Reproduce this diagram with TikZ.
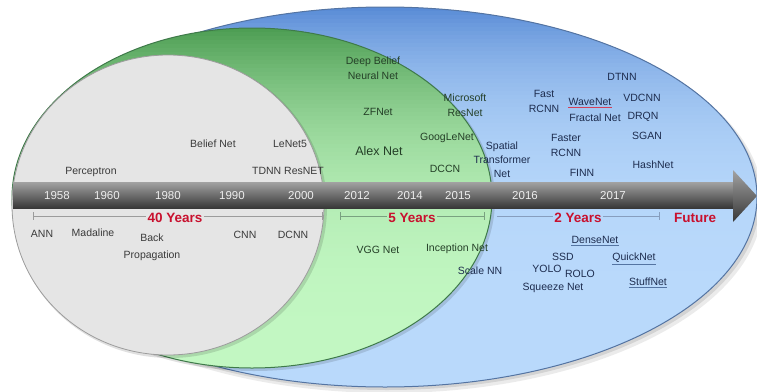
\documentclass[tikz,border=0pt]{standalone}
\usepackage{fontspec}
\setmainfont{Liberation Sans}
\usetikzlibrary{positioning}
\definecolor{TLBlueDark}{HTML}{5A8CD6}
\definecolor{TLBlueLight}{HTML}{B9D9FB}
\definecolor{TLBlueRim}{HTML}{5474A2}
\definecolor{TLGreenDark}{HTML}{4E9E54}
\definecolor{TLGreenLight}{HTML}{C2F7C2}
\definecolor{TLGreenRim}{HTML}{3F7A4A}
\definecolor{TLGrey}{HTML}{E5E5E5}
\definecolor{TLGreyRim}{HTML}{9C9C9C}
\definecolor{TLBarTop}{HTML}{A2A2A2}
\definecolor{TLBarMid}{HTML}{626262}
\definecolor{TLBarLow}{HTML}{383838}
\definecolor{TLYear}{HTML}{EDEDED}
\definecolor{TLRed}{HTML}{C8102E}
\definecolor{TLTextGrey}{HTML}{3A3A3A}
\definecolor{TLTextGreen}{HTML}{243F27}
\definecolor{TLTextBlue}{HTML}{1D2C4E}

\tikzset{
  net/.style={align=center, inner sep=0pt, font=\fontsize{10.5}{15}\selectfont},
  netgrey/.style={net, text=TLTextGrey},
  netgreen/.style={net, text=TLTextGreen},
  netblue/.style={net, text=TLTextBlue},
  yearlbl/.style={inner sep=0pt, text=TLYear, font=\fontsize{11.5}{12}\selectfont},
  spanlbl/.style={inner sep=1pt, text=TLRed, font=\bfseries\fontsize{13.5}{14}\selectfont},
  brk/.style={line width=0.6pt},
}

\begin{document}
\begin{tikzpicture}[x=1pt,y=-1pt]
  \useasboundingbox (0,0) rectangle (757,391);
  % soft shadow under the outer oval
  \fill[black, opacity=0.08] (389,202) ellipse [x radius=374pt, y radius=191pt];
  \fill[black, opacity=0.10] (387,200) ellipse [x radius=373pt, y radius=190pt];
  % blue oval, dark only near the top rim
  \begin{scope}
    \clip (385,197) ellipse [x radius=372pt, y radius=190pt];
    \foreach \i in {0,...,94} {
      \pgfmathsetmacro\tl{100*(1-(1-\i/95)^4.5)}
      \fill[TLBlueLight!\tl!TLBlueDark] (13,7+4*\i) rectangle (757,11.5+4*\i);
    }
  \end{scope}
  \draw[TLBlueRim, line width=1pt] (385,197) ellipse [x radius=372pt, y radius=190pt];
  % green oval
  \fill[black, opacity=0.12] (254,200) ellipse [x radius=241pt, y radius=171pt];
  \begin{scope}
    \clip (252,198) ellipse [x radius=240pt, y radius=170pt];
    \foreach \i in {0,...,84} {
      \pgfmathsetmacro\tl{100*(1-(1-\i/85)^2.9)}
      \fill[TLGreenLight!\tl!TLGreenDark] (12,28+4*\i) rectangle (492,32.5+4*\i);
    }
  \end{scope}
  \draw[TLGreenRim, line width=1pt] (252,198) ellipse [x radius=240pt, y radius=170pt];
  % grey oval
  \fill[black, opacity=0.12] (170,207) ellipse [x radius=157pt, y radius=151pt];
  \fill[TLGrey] (168,205) ellipse [x radius=156pt, y radius=150pt];
  \draw[TLGreyRim, line width=0.8pt] (168,205) ellipse [x radius=156pt, y radius=150pt];

  % time axis
  \shade[top color=TLBarTop, middle color=TLBarMid, bottom color=TLBarLow]
    (13,182) rectangle (733,208);
  \shade[top color=TLBarTop, middle color=TLBarMid, bottom color=TLBarLow]
    (733,170) -- (757,196) -- (733,222) -- cycle;
  \foreach \yr/\xx in {1958/57, 1960/107, 1980/168, 1990/232, 2000/301,
                       2012/357, 2014/410, 2015/458, 2016/525, 2017/613}
    \node[yearlbl] (yr\yr) at (\xx,196) {\yr};

  % spans below the axis
  \coordinate (s40l) at (33,216);
  \coordinate (s40r) at (322,216);
  \node[spanlbl] (span40) at (175,218) {40 Years};
  \draw[brk, TLGreyRim] (s40l) -- (s40l -| span40.west);
  \draw[brk, TLGreyRim] (span40.east |- s40r) -- (s40r);
  \draw[brk, TLGreyRim] ([yshift=4pt]s40l) -- ([yshift=-4pt]s40l);
  \draw[brk, TLGreyRim] ([yshift=4pt]s40r) -- ([yshift=-4pt]s40r);

  \coordinate (s5l) at (340,216);
  \coordinate (s5r) at (484,216);
  \node[spanlbl] (span5) at (412,218) {5 Years};
  \draw[brk, TLGreenRim!70] (s5l) -- (s5l -| span5.west);
  \draw[brk, TLGreenRim!70] (span5.east |- s5r) -- (s5r);
  \draw[brk, TLGreenRim!70] ([yshift=4pt]s5l) -- ([yshift=-4pt]s5l);
  \draw[brk, TLGreenRim!70] ([yshift=4pt]s5r) -- ([yshift=-4pt]s5r);

  \coordinate (s2l) at (497,216);
  \coordinate (s2r) at (659,216);
  \node[spanlbl] (span2) at (578,218) {2 Years};
  \draw[brk, TLBlueRim!70] (s2l) -- (s2l -| span2.west);
  \draw[brk, TLBlueRim!70] (span2.east |- s2r) -- (s2r);
  \draw[brk, TLBlueRim!70] ([yshift=4pt]s2r) -- ([yshift=-4pt]s2r);
  \node[spanlbl] (future) at (695,218) {Future};

  % grey oval: 40 years
  \node[netgrey] (perceptron) at (91,172) {Perceptron};
  \node[netgrey] (beliefnet) at (213,144) {Belief Net};
  \node[netgrey] (lenet) at (290,144) {LeNet5};
  \node[netgrey] (tdnn) at (288,171) {TDNN ResNET};
  \node[netgrey] (ann) at (42,234) {ANN};
  \node[netgrey] (madaline) at (93,233) {Madaline};
  \node[netgrey, font=\fontsize{10.5}{17}\selectfont] (backprop) at (152,247) {Back\\Propagation};
  \node[netgrey] (cnn) at (245,235) {CNN};
  \node[netgrey] (dcnn) at (293,235) {DCNN};

  % green oval: 5 years
  \node[netgreen] (dbn) at (373,68) {Deep Belief\\Neural Net};
  \node[netgreen] (zfnet) at (378,112) {ZFNet};
  \node[netgreen, font=\fontsize{12.5}{14}\selectfont] (alexnet) at (379,151) {Alex Net};
  \node[netgreen] (resnet) at (465,105) {Microsoft\\ResNet};
  \node[netgreen] (googlenet) at (447,138) {GoogLeNet};
  \node[netgreen] (dccn) at (445,169) {DCCN};
  \node[netgreen] (vggnet) at (378,250) {VGG Net};
  \node[netgreen] (inception) at (457,249) {Inception Net};

  % blue oval: 2 years
  \node[netblue, font=\fontsize{10.5}{14}\selectfont] (spatial) at (502,160) {Spatial\\Transformer\\Net};
  \node[netblue] (scalenn) at (480,271) {Scale NN};
  \node[netblue] (dtnn) at (622,77) {DTNN};
  \node[netblue] (fastrcnn) at (544,101) {Fast\\RCNN};
  \node[netblue] (wavenet) at (590,102) {WaveNet};
  \node[netblue] (vdcnn) at (642,98) {VDCNN};
  \node[netblue] (fractal) at (595,118) {Fractal Net};
  \node[netblue] (drqn) at (643,117) {DRQN};
  \node[netblue] (sgan) at (647,136) {SGAN};
  \node[netblue] (fasterrcnn) at (566,145) {Faster\\RCNN};
  \node[netblue] (hashnet) at (653,165) {HashNet};
  \node[netblue] (finn) at (582,173) {FINN};
  \node[netblue] (densenet) at (595,240) {DenseNet};
  \node[netblue] (ssd) at (563,257) {SSD};
  \node[netblue] (quicknet) at (634,258) {QuickNet};
  \node[netblue] (yolo) at (547,269) {YOLO};
  \node[netblue] (rolo) at (580,274) {ROLO};
  \node[netblue] (squeeze) at (553,288) {Squeeze Net};
  \node[netblue] (stuffnet) at (648,282) {StuffNet};
  \draw[TLRed!80, line width=0.4pt] ([yshift=-1pt]wavenet.south west) -- ([yshift=-1pt]wavenet.south east);
  \foreach \nm in {densenet, quicknet, stuffnet}
    \draw[TLBlueRim, line width=0.4pt] ([yshift=-1pt]\nm.south west) -- ([yshift=-1pt]\nm.south east);
\end{tikzpicture}
\end{document}
